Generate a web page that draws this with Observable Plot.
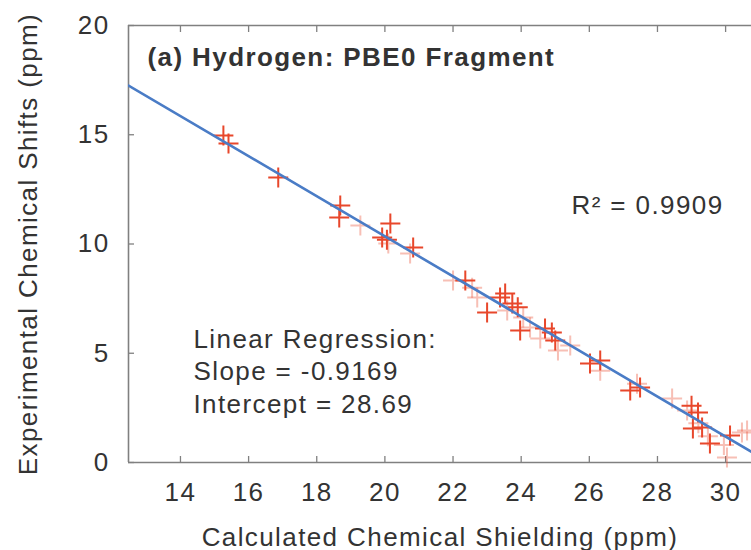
<!DOCTYPE html>
<html>
<head>
<meta charset="utf-8">
<script src="https://cdn.jsdelivr.net/npm/d3@7"></script>
<script src="https://cdn.jsdelivr.net/npm/@observablehq/plot@0.6"></script>
<style>
  html, body { margin: 0; padding: 0; background: #fff; }
  #chart svg { display: block; }
</style>
</head>
<body>
<div id="chart"></div>
<script>
// Calculated 1H chemical shielding (ppm) vs. experimental chemical shift (ppm)
const shielding = [
  15.26, 15.41, 16.87, 18.69, 18.66, 19.28, 19.92, 20.06, 20.16, 20.10, 20.83, 20.74,
  22.00, 22.36, 22.56, 22.71, 23.00, 23.38, 23.53, 23.74, 23.59, 23.90, 24.06, 24.26,
  23.97, 24.56, 24.70, 24.90, 25.00, 25.08, 25.44,
  26.02, 26.32, 26.32, 27.20, 27.49, 27.40, 28.43, 28.87, 29.00, 29.19, 29.04, 29.20,
  29.54, 29.48, 30.13, 29.95, 30.48, 30.04, 30.63, 29.31
];
const shift = [
  14.97, 14.60, 13.04, 11.76, 11.21, 10.85, 10.30, 10.20, 10.94, 10.02, 9.84, 9.56,
  8.33, 8.33, 8.00, 7.55, 6.86, 7.55, 7.73, 7.28, 6.96, 7.10, 6.64, 6.18,
  6.04, 5.68, 6.13, 5.95, 5.58, 5.13, 5.35,
  4.53, 4.67, 4.20, 3.30, 3.43, 3.60, 2.93, 2.38, 2.60, 2.29, 1.56, 1.80,
  0.87, 1.20, 1.24, 0.80, 1.37, 0.23, 1.46, 1.60
];
// 1 = lighter (semi-transparent) marker
const faded = [
  0, 0, 0, 0, 0, 1, 0, 0, 0, 1, 0, 1,
  1, 0, 1, 1, 0, 0, 0, 0, 1, 0, 1, 1,
  0, 1, 0, 0, 0, 1, 1,
  0, 0, 1, 0, 0, 1, 1, 1, 0, 0, 0, 1,
  0, 1, 0, 1, 1, 1, 1, 0
];

const slope = -0.9169;
const intercept = 28.69;
const rSquared = 0.9909;

const xTicks = [14, 16, 18, 20, 22, 24, 26, 28, 30];
const yTicks = [0, 5, 10, 15, 20];
const xDomain = [12.475, 30.76];
const yDomain = [0, 20];

const points = shielding.map((x, i) => ({x, y: shift[i], faded: faded[i]}));

// "+" marker drawn as two strokes
const plusSymbol = {
  draw(context, size) {
    const r = Math.sqrt(size / Math.PI);
    context.moveTo(-r, 0); context.lineTo(r, 0);
    context.moveTo(0, -r); context.lineTo(0, r);
  }
};

const axisColor = "#808080";
const textColor = "#333";
const fontSize = 26;

const chart = Plot.plot({
  width: 751,
  height: 550,
  marginLeft: 128,
  marginTop: 25,
  marginBottom: 88,
  marginRight: 0,
  style: {fontFamily: "'Liberation Sans', Arial, sans-serif", fontSize: `${fontSize}px`, letterSpacing: "1.4px", color: textColor, background: "#fff", overflow: "visible"},
  x: {domain: xDomain},
  y: {domain: yDomain},
  marks: [
    // frame: left, bottom, top
    Plot.ruleX([xDomain[0]], {stroke: axisColor, strokeWidth: 1.6}),
    Plot.ruleY([yDomain[0], yDomain[1]], {stroke: axisColor, strokeWidth: 1.6}),
    // inward ticks and tick labels
    Plot.axisX(xTicks, {anchor: "bottom", tickSize: -6, tickPadding: 26, stroke: axisColor, strokeWidth: 1.3, fill: textColor, fontSize, label: null}),
    Plot.axisX(xTicks, {anchor: "top", tickSize: -6, tickFormat: () => "", stroke: axisColor, strokeWidth: 1.3, label: null}),
    Plot.axisY(yTicks, {anchor: "left", tickSize: -6, tickPadding: 25, stroke: axisColor, strokeWidth: 1.3, fill: textColor, fontSize, label: null}),
    // data
    Plot.dot(points.filter(d => d.faded), {x: "x", y: "y", r: 10, symbol: plusSymbol, stroke: "#e8472b", strokeOpacity: 0.35, strokeWidth: 2, fill: "none"}),
    Plot.dot(points.filter(d => !d.faded), {x: "x", y: "y", r: 10, symbol: plusSymbol, stroke: "#e8472b", strokeWidth: 2, fill: "none"}),
    // regression line
    Plot.line(xDomain, {x: d => d, y: d => slope * d + intercept, stroke: "#4a7cc6", strokeWidth: 2.6, clip: true}),
    // annotations
    Plot.text(["(a) Hydrogen: PBE0 Fragment"], {frameAnchor: "top-left", dx: 19, dy: 40, textAnchor: "start", lineAnchor: "bottom", fontWeight: "bold", fill: textColor, fontSize}),
    Plot.text([`R² = ${rSquared.toFixed(4)}`], {frameAnchor: "top-left", dx: 443, dy: 188, textAnchor: "start", lineAnchor: "bottom", fill: textColor, fontSize}),
    Plot.text([`Linear Regression:\nSlope = ${slope}\nIntercept = ${intercept}`], {frameAnchor: "top-left", dx: 65, dy: 299, textAnchor: "start", lineAnchor: "top", lineHeight: 1.25, fill: textColor, fontSize}),
    // axis titles
    Plot.text(["Calculated Chemical Shielding (ppm)"], {frameAnchor: "bottom", dy: 83, textAnchor: "middle", lineAnchor: "bottom", fill: textColor, fontSize}),
    Plot.text(["Experimental Chemical Shifts (ppm)"], {frameAnchor: "left", dx: -100, rotate: -90, textAnchor: "middle", lineAnchor: "middle", fill: textColor, fontSize})
  ]
});

document.getElementById("chart").appendChild(chart);
</script>
</body>
</html>
